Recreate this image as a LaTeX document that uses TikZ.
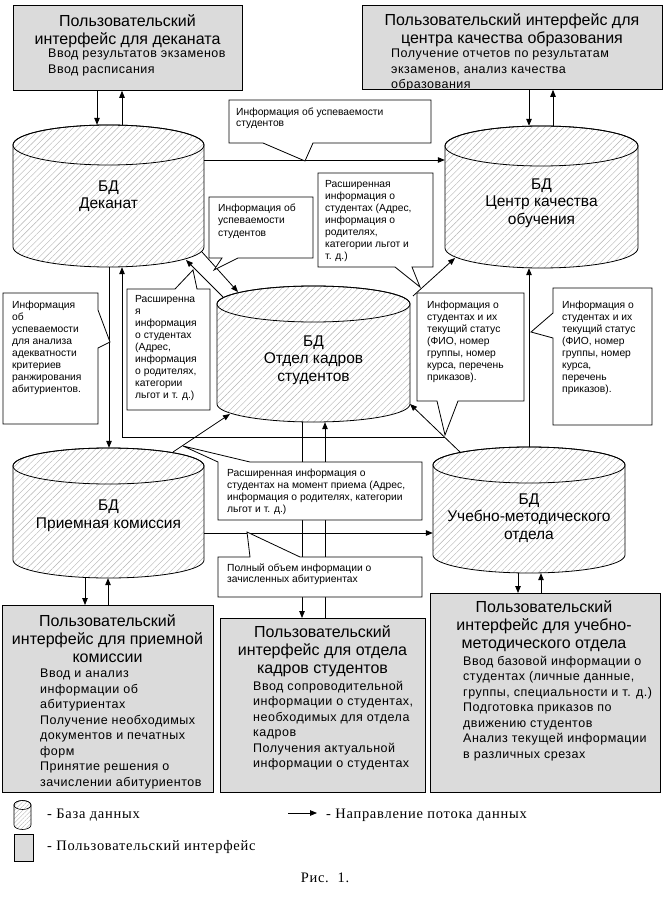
\documentclass[tikz,border=0pt]{standalone}
\usepackage{fontspec}
\setmainfont{Liberation Sans}
\newfontfamily\legfont[LetterSpace=5]{Liberation Serif}
\newfontfamily\itemfont[LetterSpace=4]{Liberation Sans}
\usetikzlibrary{arrows.meta,patterns.meta}

\tikzset{
 arr/.style={line width=0.8pt, -{Triangle[length=7pt,width=5.5pt]}},
 uibox/.style={draw, line width=0.8pt, fill=black!14, inner sep=0, anchor=north west},
 cylbody/.style={draw, line width=0.8pt, pattern={Lines[angle=45,distance=4.5pt,line width=0.4pt]}, pattern color=black!30},
 cylline/.style={draw, line width=0.8pt},
 callout/.style={draw, line width=0.8pt, fill=white},
 ctext/.style={anchor=north west, inner sep=0, align=left, font=\fontsize{10.3}{12}\selectfont},
 cyltext/.style={align=center, inner sep=0, font=\fontsize{15.5}{17.5}\selectfont},
 uititle/.style={anchor=north, inner sep=0, align=center, font=\fontsize{16}{18}\selectfont},
 uiitems/.style={anchor=north west, inner sep=0, align=left, font=\itemfont\fontsize{12.5}{15.5}\selectfont},
 legtext/.style={inner sep=0, font=\legfont\fontsize{14.5}{16}\selectfont},
}

% name, cx, ytop, ybot, rx, ry, text y, text
\newcommand\dbcyl[8]{%
 \pgfmathsetmacro\dbL{#2-#5}%
 \pgfmathsetmacro\dbR{#2+#5}%
 \pgfmathsetmacro\dbW{2*#5}%
 \pgfmathsetmacro\dbH{#4-#3+2*#6}%
 \pgfmathsetmacro\dbM{(#3+#4)/2}%
 \path[cylbody] (\dbL,#3) -- (\dbL,#4) arc[start angle=180,end angle=360,x radius=#5pt,y radius=#6pt] -- (\dbR,#3) arc[start angle=0,end angle=180,x radius=#5pt,y radius=#6pt] -- cycle;
 \draw[cylline] (#2,#3) ellipse[x radius=#5pt,y radius=#6pt];
 \node[inner sep=0,minimum width=\dbW pt,minimum height=\dbH pt] (#1) at (#2,\dbM) {};
 \node[cyltext] (#1-t) at (#2,#7) {#8};
}

\begin{document}
\begin{tikzpicture}[x=1pt,y=-1pt]
\useasboundingbox (0,0) rectangle (663,901);
\fill[white] (0,0) rectangle (663,901);

% ---------- databases ----------
\dbcyl{dek}{108.5}{145}{247}{95.5}{20}{196}{БД\\Деканат}
\dbcyl{cq}{541.5}{146}{248}{96.5}{20}{203}{БД\\Центр качества\\обучения}
\dbcyl{ok}{313.5}{304}{404}{96.5}{18}{360}{БД\\Отдел кадров\\студентов}
\dbcyl{pk}{108.5}{466}{560}{95.5}{18}{516}{БД\\Приемная комиссия}
\dbcyl{umo}{529}{465}{555}{96}{18}{518}{БД\\Учебно-методического\\отдела}

% ---------- user interfaces ----------
\node[uibox, minimum width=229pt, minimum height=85pt] (uiDek) at (13,5) {};
\node[uititle] (uiDek-t) at (127.5,14) {Пользовательский\\интерфейс для деканата};
\node[uiitems] (uiDek-i) at (48,49) {Ввод результатов экзаменов\\Ввод расписания};

\node[uibox, minimum width=300pt, minimum height=84pt] (uiCQ) at (362,5) {};
\node[uititle] (uiCQ-t) at (512,13) {Пользовательский интерфейс для\\центра качества образования};
\begin{scope}
\clip (uiCQ.north west) rectangle (uiCQ.south east);
\node[uiitems] (uiCQ-i) at (391,49) {Получение отчетов по результатам\\экзаменов, анализ качества\\образования};
\end{scope}

\node[uibox, minimum width=211pt, minimum height=187pt] (uiPK) at (2,605) {};
\node[uititle] (uiPK-t) at (107.5,614) {Пользовательский\\интерфейс для приемной\\комиссии};
\node[uiitems] (uiPK-i) at (40,669) {Ввод и анализ\\информации об\\абитуриентах\\Получение необходимых\\документов и печатных\\форм\\Принятие решения о\\зачислении абитуриентов};

\node[uibox, minimum width=205pt, minimum height=174pt] (uiOK) at (220,618) {};
\node[uititle] (uiOK-t) at (322.5,625) {Пользовательский\\интерфейс для отдела\\кадров студентов};
\node[uiitems] (uiOK-i) at (253,681) {Ввод сопроводительной\\информации о студентах,\\необходимых для отдела\\кадров\\Получения актуальной\\информации о студентах};

\node[uibox, minimum width=230pt, minimum height=199pt] (uiUMO) at (430,593) {};
\node[uititle] (uiUMO-t) at (544,600) {Пользовательский\\интерфейс для учебно-\\методического отдела};
\node[uiitems] (uiUMO-i) at (463,656) {Ввод базовой информации о\\студентах (личные данные,\\группы, специальности и т. д.)\\Подготовка приказов по\\движению студентов\\Анализ текущей информации\\в различных срезах};

% ---------- connector end points ----------
\coordinate (okA) at (223,297);
\coordinate (dekA) at (186,260);
\coordinate (dekB) at (202,252);
\coordinate (okB) at (238,292);
\coordinate (okC) at (413,296);
\coordinate (cqC) at (455,258);
\coordinate (umoD) at (460,452);
\coordinate (okD) at (410,404);
\coordinate (brD) at (444.7,437);
\coordinate (pkE) at (173,452);
\coordinate (okE) at (230,414);

% ---------- connectors ----------
\draw[arr] (uiDek.south -| 97,0) -- (dek.north -| 97,0);
\draw[arr] (dek.north -| 122,0) -- (uiDek.south -| 122,0);
\draw[arr] (uiCQ.south -| 529,0) -- (cq.north -| 529,0);
\draw[arr] (cq.north -| 553,0) -- (uiCQ.south -| 553,0);
\draw[arr] (dek.east |- 0,160) -- (cq.west |- 0,160);
\draw[arr] (okA) -- (dekA);
\draw[arr] (dekB) -- (okB);
\draw[arr] (okC) -- (cqC);
\draw[arr] (dek.south -| 109,0) -- (pk.north -| 109,0);
\draw[arr] (umoD) -- (okD);
\draw[arr] (brD) -| (dek.south -| 122,0);
\draw[arr] (umo.north) -- (cq.south -| umo.north);
\draw[arr] (pkE) -- (okE);
\draw[arr] (pk.east |- 0,533) -- (umo.west |- 0,533);
\draw[arr] (ok.south -| 302,0) -- (uiOK.north -| 302,0);
\draw[arr] (uiOK.north -| 325,0) -- (ok.south -| 325,0);
\draw[arr] (pk.south -| 85,0) -- (uiPK.north -| 85,0);
\draw[arr] (uiPK.north -| 108,0) -- (pk.south -| 108,0);
\draw[arr] (umo.south -| 518,0) -- (uiUMO.north -| 518,0);
\draw[arr] (uiUMO.north -| 541,0) -- (umo.south -| 541,0);

% ---------- callouts ----------
\draw[callout] (229,100) -- (431,100) -- (431,143) -- (313,143) -- (305,161) -- (263,143) -- (229,143) -- cycle;
\node[ctext, font=\fontsize{10.3}{11.5}\selectfont] (c1) at (236,107.5) {Информация об успеваемости\\студентов};

\draw[callout] (209,197) -- (313,197) -- (313,258) -- (238,258) -- (214,270) -- (222,258) -- (209,258) -- cycle;
\node[ctext, font=\fontsize{10.3}{12.5}\selectfont] (c2) at (218,203.5) {Информация об\\успеваемости\\студентов};

\draw[callout] (318,173) -- (433,173) -- (433,267) -- (412,267) -- (420,287) -- (395,267) -- (318,267) -- cycle;
\node[ctext] (c3) at (325,180.5) {Расширенная\\информация о\\студентах (Адрес,\\информация о\\родителях,\\категории льгот и\\т. д.)};

\draw[callout] (3,293) -- (98,293) -- (98,310) -- (110,342) -- (98,348) -- (98,424) -- (3,424) -- cycle;
\node[ctext] (c4) at (12,300.5) {Информация\\об\\успеваемости\\для анализа\\адекватности\\критериев\\ранжирования\\абитуриентов.};

\draw[callout] (127,289) -- (175,289) -- (193,270) -- (197,289) -- (210,289) -- (210,410) -- (127,410) -- cycle;
\node[ctext] (c5) at (135,295.5) {Расширенна\\я\\информация\\о студентах\\(Адрес,\\информация\\о родителях,\\категории\\льгот и т. д.)};

\draw[callout] (417,293) -- (524,293) -- (524,401) -- (458,401) -- (445,435) -- (437,401) -- (417,401) -- cycle;
\node[ctext] (c6) at (427,300.5) {Информация о\\студентах и их\\текущий статус\\(ФИО, номер\\группы, номер\\курса, перечень\\приказов).};

\draw[callout] (553,288) -- (652,288) -- (652,425) -- (553,425) -- (553,338) -- (531,332) -- (553,313) -- cycle;
\node[ctext] (c7) at (562,300.5) {Информация о\\студентах и их\\текущий статус\\(ФИО, номер\\группы, номер\\курса,\\перечень\\приказов).};

\draw[callout] (218,520) -- (218,462) -- (183,446) -- (250,462) -- (422,462) -- (422,520) -- cycle;
\node[ctext] (c8) at (227,468.5) {Расширенная информация о\\студентах на момент приема (Адрес,\\информация о родителях, категории\\льгот и т. д.)};

\draw[callout] (218,557) -- (250,557) -- (247,532) -- (300,557) -- (422,557) -- (422,597) -- (218,597) -- cycle;
\node[ctext, font=\fontsize{10.3}{11.5}\selectfont] (c9) at (227,563.5) {Полный объем информации о\\зачисленных абитуриентах};

% ---------- legend ----------
\begin{scope}[cylline/.style={draw, line width=0.6pt}, cylbody/.style={draw, line width=0.6pt, pattern={Lines[angle=45,distance=3pt,line width=0.4pt]}, pattern color=black!30}]
\dbcyl{legdb}{22.5}{805}{825}{8.5}{4.5}{815}{}
\end{scope}
\node[legtext, anchor=west] (legdb-l) at (47,815) {- База данных};
\coordinate (legA1) at (288,813);
\coordinate (legA2) at (317,813);
\draw[arr] (legA1) -- (legA2);
\node[legtext, anchor=west] (legarr-l) at (326,815) {- Направление потока данных};
\node[uibox, line width=0.6pt, minimum width=19pt, minimum height=27pt] (legui) at (14,834) {};
\node[legtext, anchor=west] (legui-l) at (47,847) {- Пользовательский интерфейс};
\node[legtext] (fig) at (325,878) {Рис.\ \ 1.};
\end{tikzpicture}
\end{document}
